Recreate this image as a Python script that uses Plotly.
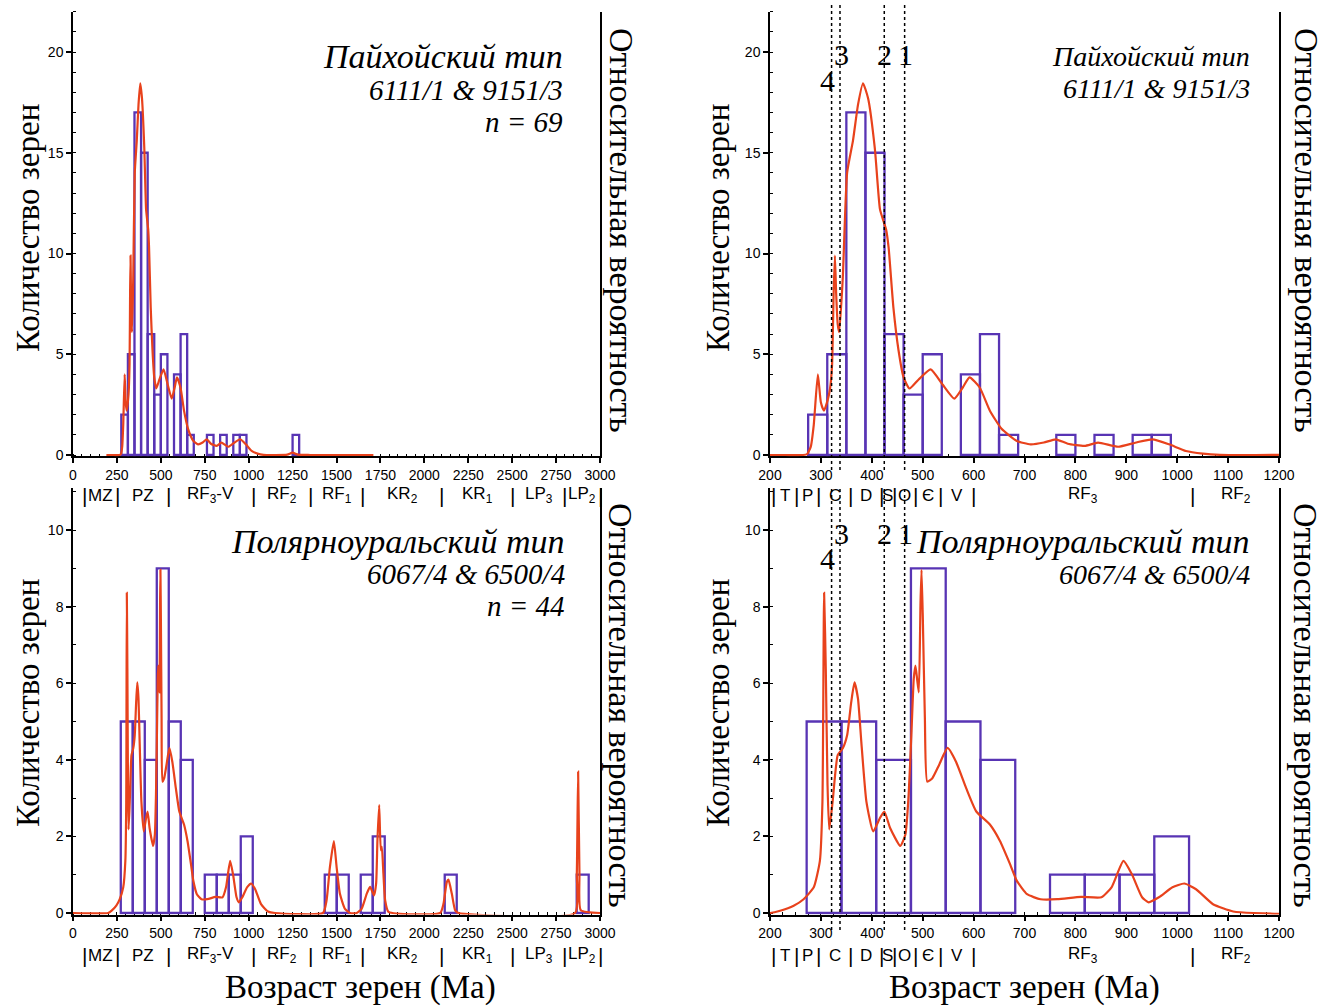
import plotly.graph_objects as go

W, H = 1337, 1007

# ---------------- data ----------------
# Пайхойский тип: histogram bins (lower edge, Ma) and grain counts
TOP_BIN = 37.5
top_bin_start = [275.0, 312.5, 350.0, 387.5, 425.0, 462.5, 500.0, 575.0, 612.5,
                 650.0, 762.5, 837.5, 912.5, 950.0, 1250.0]
top_counts = [2, 5, 17, 15, 6, 3, 5, 4, 6, 1, 1, 1, 1, 1, 1]

# Полярноуральский тип: histogram bins (lower edge, Ma) and grain counts
BOTTOM_BIN = 68.3
bottom_bin_start = [272.0, 340.3, 408.6, 476.9, 545.2, 613.5, 750.1, 818.4, 886.7,
                    955.0, 1433.1, 1501.4, 1638.0, 1706.3, 2116.1, 2867.4]
bottom_counts = [5, 5, 4, 9, 5, 4, 1, 1, 1, 2, 1, 1, 1, 2, 1, 1]

# probability density curves, in units of the count axis
top_pdp_age = [190, 230, 265, 273, 280, 286, 294, 300, 306, 313, 318, 322, 325, 327.5,
               330, 333, 336, 343, 351.5, 363, 373, 382.7, 392.7, 406, 416, 423, 428,
               433, 442.5, 452.5, 462.5, 474, 492, 515.6, 539, 562, 578.7, 592, 612,
               632, 655, 685, 712, 738, 761.5, 785, 818, 844.5, 884, 917.6, 951, 984,
               1017, 1050.5, 1084, 1150, 1220, 1250, 1280, 1350, 1710]
top_pdp = [0, 0, 0, 0.05, 0.4, 1.5, 4.0, 2.6, 2.2, 2.7, 3.3, 4.5, 8.0, 9.9,
           8.0, 6.5, 6.1, 8.8, 14.0, 15.6, 17.4, 18.45, 17.7, 15.2, 12.2, 11.6, 11.2,
           10.3, 7.3, 5.2, 3.85, 3.3, 3.75, 4.25, 3.5, 2.8, 3.35, 3.85, 3.35,
           2.2, 1.3, 0.7, 0.53, 0.62, 0.78, 0.56, 0.45, 0.61, 0.41, 0.61, 0.78, 0.53,
           0.2, 0.07, 0.01, 0, 0.02, 0.12, 0.02, 0, 0]

bottom_pdp_age = [0, 200, 220, 246.5, 266, 286, 298, 303, 306.3, 309.6, 313, 316.3, 323,
                  333, 343, 351.5, 359.5, 366, 372.8, 379.4, 389.4, 402.7, 416, 424.6,
                  436, 456, 466, 472.4, 477.7, 482.4, 485.7, 489, 492.4, 495.7, 497.7,
                  500.3, 504.3, 509, 519, 532, 548.8, 565.4, 585.4, 605.3, 632, 651.8,
                  671.8, 685, 705, 731.6, 764.8, 811.3, 851.2, 871, 894.4, 911, 931,
                  944, 964, 990.7, 1014, 1037, 1070.4, 1110, 1150, 1423, 1443.5,
                  1462.5, 1485, 1500.6, 1519.5, 1548, 1577, 1615, 1643, 1672, 1691,
                  1714, 1725.6, 1733, 1743, 1752, 1758, 1767, 1777, 1796, 2090, 2109,
                  2128, 2137.5, 2156.5, 2175.5, 2194.5, 2858, 2868, 2875.5, 2883,
                  2890.6, 3000]
bottom_pdp = [0, 0, 0.06, 0.19, 0.36, 0.67, 1.36, 2.9, 8.36, 6.37, 3.35, 2.18, 2.9,
              4.12, 4.3, 4.64, 5.5, 6.02, 5.6, 4.47, 2.91, 2.13, 2.48, 2.65,
              2.22, 1.75, 2.05, 3.09, 4.64, 6.11, 6.46, 6.11, 5.76, 8.1, 8.96,
              7.67, 5.07, 3.43, 3.52, 3.86, 4.31, 3.95, 3.26, 2.65, 2.31, 1.88,
              1.27, 0.84, 0.49, 0.36, 0.36, 0.42, 0.41, 0.67, 1.36, 1.01, 0.41,
              0.28, 0.41, 0.67, 0.77, 0.62, 0.23, 0.04, 0, 0, 0.33,
              1.2, 1.88, 1.2, 0.5, 0.11, 0, 0, 0.11, 0.5, 0.68,
              0.46, 0.77, 1.9, 2.82, 1.64, 1.73, 1.03, 0.33, 0.03, 0, 0.24,
              0.81, 0.87, 0.5, 0.07, 0, 0, 1.03, 3.69, 1.03,
              0.07, 0]

# geological time scale under the axes
wide_scale_bounds = [66, 252, 541, 1030, 1350, 1650, 2100, 2500, 2800, 3000]
wide_scale_names = ["MZ", "PZ", "RF<sub>3</sub>-V", "RF<sub>2</sub>", "RF<sub>1</sub>",
                    "KR<sub>2</sub>", "KR<sub>1</sub>", "LP<sub>3</sub>", "LP<sub>2</sub>"]
narrow_scale_bounds = [207, 252, 296, 359, 419, 444, 485, 535, 600, 1030, 1200]
narrow_scale_names = ["T", "P", "C", "D", "S", "O", "Є", "V", "RF<sub>3</sub>",
                      "RF<sub>2</sub>"]

# reference ages marked by dotted lines
event_ages = [321, 337.5, 424.5, 464.5]
event_labels = ["4", "3", "2", "1"]

wide_ticks = list(range(0, 3001, 250))
narrow_ticks = list(range(200, 1201, 100))

# ---------------- styling ----------------
PURPLE = "rgb(88,52,180)"
RED = "rgb(232,66,28)"
SERIF = "Liberation Serif, Times New Roman, serif"
SANS = "Liberation Sans, Arial, sans-serif"


def px_x(px):
    return px / W


def px_y(py):
    return 1 - py / H


def y_domain(zero_px, unit_px, ymin, ymax):
    return [px_y(zero_px - ymin * unit_px), px_y(zero_px - ymax * unit_px)]


TOP_ZERO, TOP_UNIT, TOP_RANGE = 455, 20.15, [-0.07, 22]
BOT_ZERO, BOT_UNIT, BOT_RANGE = 913, 38.3, [-0.04, 11.1]
LEFT_X = [px_x(73), px_x(600)]
RIGHT_X = [px_x(770), px_x(1279)]

fig = go.Figure()


def add_panel(xa, ya, starts, counts, width, ages, dens):
    fig.add_trace(go.Bar(
        x=[s + width / 2 for s in starts], y=counts, width=width,
        marker=dict(color="rgba(0,0,0,0)", line=dict(color=PURPLE, width=2.3)),
        xaxis=xa, yaxis=ya, showlegend=False, hoverinfo="skip"))
    fig.add_trace(go.Scatter(
        x=ages, y=dens, mode="lines",
        line=dict(color=RED, width=2.2, shape="spline", smoothing=0.5),
        xaxis=xa, yaxis=ya, showlegend=False, hoverinfo="skip"))


add_panel("x", "y", top_bin_start, top_counts, TOP_BIN, top_pdp_age, top_pdp)
add_panel("x2", "y2", top_bin_start, top_counts, TOP_BIN, top_pdp_age, top_pdp)
add_panel("x3", "y3", bottom_bin_start, bottom_counts, BOTTOM_BIN, bottom_pdp_age, bottom_pdp)
add_panel("x4", "y4", bottom_bin_start, bottom_counts, BOTTOM_BIN, bottom_pdp_age, bottom_pdp)

axis_style = dict(showline=True, linecolor="black", linewidth=1.5, ticks="outside",
                  ticklen=5, tickwidth=1.5, tickcolor="black", showgrid=False,
                  zeroline=False, layer="below traces", automargin=False,
                  tickfont=dict(family=SANS, size=14, color="black"))


def xaxis(domain, rng, tickvals, minor_dtick, anchor):
    return dict(axis_style, domain=domain, range=rng, tickvals=tickvals,
                ticktext=[str(v) for v in tickvals], anchor=anchor,
                minor=dict(ticks="inside", ticklen=3, tickwidth=1.2, tickcolor="black",
                           tick0=0, dtick=minor_dtick))


def yaxis(domain, rng, dtick, anchor):
    return dict(axis_style, domain=domain, range=rng, tick0=0, dtick=dtick,
                anchor=anchor, mirror=True,
                minor=dict(ticks="inside", ticklen=3, tickwidth=1.2, tickcolor="black",
                           tick0=0, dtick=1))


top_dom = y_domain(TOP_ZERO, TOP_UNIT, *TOP_RANGE)
bot_dom = y_domain(BOT_ZERO, BOT_UNIT, *BOT_RANGE)

fig.update_layout(
    width=W, height=H, margin=dict(l=0, r=0, t=0, b=0, autoexpand=False),
    paper_bgcolor="white", plot_bgcolor="white", barmode="overlay",
    xaxis=xaxis(LEFT_X, [0, 3000], wide_ticks, 50, "y"),
    yaxis=yaxis(top_dom, TOP_RANGE, 5, "x"),
    xaxis2=xaxis(RIGHT_X, [200, 1200], narrow_ticks, 25, "y2"),
    yaxis2=yaxis(top_dom, TOP_RANGE, 5, "x2"),
    xaxis3=xaxis(LEFT_X, [0, 3000], wide_ticks, 50, "y3"),
    yaxis3=yaxis(bot_dom, BOT_RANGE, 2, "x3"),
    xaxis4=xaxis(RIGHT_X, [200, 1200], narrow_ticks, 25, "y4"),
    yaxis4=yaxis(bot_dom, BOT_RANGE, 2, "x4"),
)

annotations = []


def text(t, px, py, size, family=SERIF, xanchor="center", angle=0, italic=False,
         xref="paper", x=None, xshift=0):
    annotations.append(dict(
        text=t, x=px_x(px) if x is None else x, y=px_y(py), xref=xref, yref="paper",
        xanchor=xanchor, yanchor="middle", showarrow=False, textangle=angle,
        xshift=xshift,
        font=dict(family=family, size=size, color="black",
                  style="italic" if italic else "normal")))


# axis titles
for cx in (28, 718):
    text("Количество зерен", cx, 228, 33, angle=-90)
    text("Количество зерен", cx, 703, 33, angle=-90)
for cx in (621, 1306):
    text("Относительная вероятность", cx, 230, 34, angle=90)
    text("Относительная вероятность", cx, 705, 34, angle=90)
text("Возраст зерен (Ма)", 360, 987, 33)
text("Возраст зерен (Ма)", 1024, 987, 33)

# sample captions
text("Пайхойский тип", 565, 57, 34, xanchor="right", italic=True)
text("6111/1 &amp; 9151/3", 565, 90, 29, xanchor="right", italic=True)
text("n = 69", 565, 122, 29, xanchor="right", italic=True)
text("Пайхойский тип", 1252, 57, 28, xanchor="right", italic=True)
text("6111/1 &amp; 9151/3", 1252, 88, 28, xanchor="right", italic=True)
text("Полярноуральский тип", 567, 541, 34, xanchor="right", italic=True)
text("6067/4 &amp; 6500/4", 567, 574, 29, xanchor="right", italic=True)
text("n = 44", 567, 606, 29, xanchor="right", italic=True)
text("Полярноуральский тип", 1252, 541, 34, xanchor="right", italic=True)
text("6067/4 &amp; 6500/4", 1252, 574, 28, xanchor="right", italic=True)

# geological scale rows


def scale_row(xref, bounds, names, py, last_sep):
    seps = bounds if last_sep else bounds[:-1]
    for b in seps:
        text("|", 0, py, 21, family=SANS, xref=xref, x=b)
    for a, b, n in zip(bounds[:-1], bounds[1:], names):
        text(n, 0, py, 17, family=SANS, xref=xref, x=(a + b) / 2)


scale_row("x", wide_scale_bounds, wide_scale_names, 495, True)
scale_row("x3", wide_scale_bounds, wide_scale_names, 955, True)
scale_row("x2", narrow_scale_bounds, narrow_scale_names, 495, False)
scale_row("x4", narrow_scale_bounds, narrow_scale_names, 955, False)

# dotted reference lines and their numbers
shapes = []
label_rows = {"x2": (55, 80, 5, 470), "x4": (533, 558, 487, 930)}
shifts = [-4, 2, 0, 1]
for xref, (y_hi, y_lo, top_px, bot_px) in label_rows.items():
    for age, lab, sh in zip(event_ages, event_labels, shifts):
        shapes.append(dict(type="line", xref=xref, yref="paper", x0=age, x1=age,
                           y0=px_y(bot_px), y1=px_y(top_px),
                           line=dict(color="black", width=1.5, dash="dot")))
        text(lab, 0, y_lo if lab == "4" else y_hi, 30, xref=xref, x=age, xshift=sh)

fig.update_layout(annotations=annotations, shapes=shapes)
fig.write_html("out.html")
